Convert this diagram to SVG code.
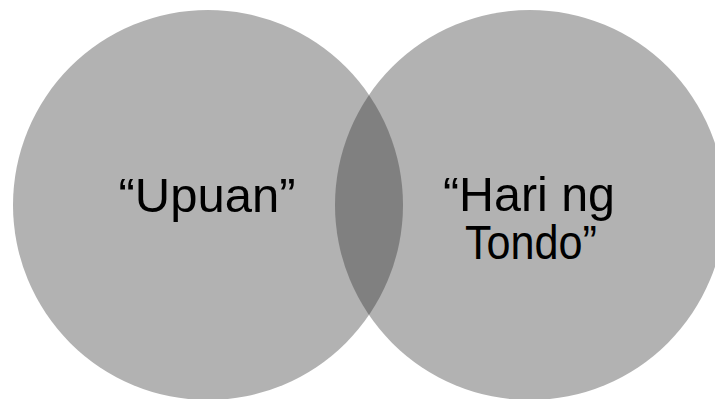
<svg xmlns="http://www.w3.org/2000/svg" width="715" height="399" viewBox="0 0 715 399">
<style>
.c{fill:#b2b2b2}
.lens{fill:#808080}
.t{font-family:"Liberation Sans",Arial,sans-serif;font-size:48px;fill:#000;text-anchor:middle}
</style>
<defs>
<clipPath id="clipL"><circle cx="208" cy="205" r="195"/></clipPath>
</defs>
<rect width="715" height="399" fill="#fff"/>
<g id="left">
<circle class="c" cx="208" cy="205" r="195"/>
</g>
<g id="right">
<circle class="c" cx="530" cy="205" r="195"/>
</g>
<g id="overlap">
<circle class="lens" cx="530" cy="205" r="195" clip-path="url(#clipL)"/>
</g>
<g id="labels">
<text class="t" x="207" y="212" textLength="177" lengthAdjust="spacingAndGlyphs">“Upuan”</text>
<text class="t" x="529" y="211" textLength="172" lengthAdjust="spacingAndGlyphs">“Hari ng</text>
<text class="t" x="531" y="259" textLength="132" lengthAdjust="spacingAndGlyphs">Tondo”</text>
</g>
</svg>
